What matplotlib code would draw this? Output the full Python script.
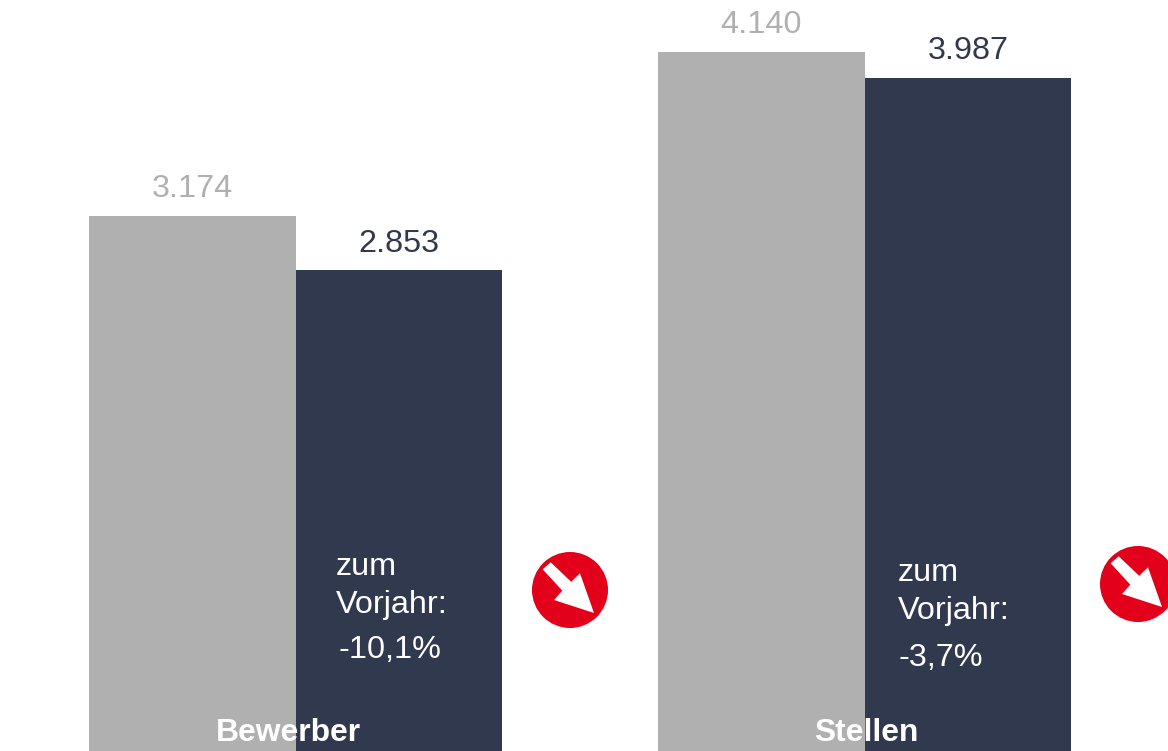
import matplotlib
matplotlib.use('Agg')
import matplotlib.pyplot as plt
import matplotlib.patches as patches

groups = ['Bewerber', 'Stellen']
prev_values = [3174, 4140]
curr_values = [2853, 3987]
prev_labels = ['3.174', '4.140']
curr_labels = ['2.853', '3.987']
changes = ['-10,1%', '-3,7%']

W, H = 1168, 751
GREY = '#b0b0b0'
NAVY = '#31394f'
RED = '#e2001a'
fs = 23.3

plt.rcParams['font.family'] = ['Liberation Sans', 'DejaVu Sans']

fig = plt.figure(figsize=(W / 100, H / 100), dpi=100)
ax = fig.add_axes([0, 0, 1, 1])
# y scale from the bar tops: 4140 sits at y=52, 2853 at y=270, bars cut off at the bottom
px_per_unit = (270 - 52) / (4140 - 2853)
ax.set_xlim(0, W)
ax.set_ylim(4140 - (H - 52) / px_per_unit, 4140 + 52 / px_per_unit)
ax.axis('off')

lefts_prev = [89, 658]
bar_w = 206.7
for i in range(len(groups)):
    ax.bar(lefts_prev[i], prev_values[i], bar_w, align='edge', color=GREY)
    ax.bar(lefts_prev[i] + bar_w, curr_values[i], bar_w, align='edge', color=NAVY)

# overlay axes in pixel coordinates for the labels and badges
ov = fig.add_axes([0, 0, 1, 1])
ov.set_xlim(0, W)
ov.set_ylim(H, 0)
ov.axis('off')
ov.patch.set_alpha(0)

ov.text(192, 189, prev_labels[0], color=GREY, fontsize=fs, ha='center', va='center')
ov.text(399, 244, curr_labels[0], color=NAVY, fontsize=fs, ha='center', va='center')
ov.text(761, 25, prev_labels[1], color=GREY, fontsize=fs, ha='center', va='center')
ov.text(968, 51, curr_labels[1], color=NAVY, fontsize=fs, ha='center', va='center')

ov.text(336, 567, 'zum', color='white', fontsize=fs, ha='left', va='center')
ov.text(336, 605, 'Vorjahr:', color='white', fontsize=fs, ha='left', va='center')
ov.text(339, 650, changes[0], color='white', fontsize=fs, ha='left', va='center')
ov.text(898, 573, 'zum', color='white', fontsize=fs, ha='left', va='center')
ov.text(898, 611, 'Vorjahr:', color='white', fontsize=fs, ha='left', va='center')
ov.text(899, 658, changes[1], color='white', fontsize=fs, ha='left', va='center')

ov.text(288, 733, groups[0], color='white', fontsize=fs * 0.98, fontweight='bold', ha='center', va='center')
ov.text(866, 733, groups[1], color='white', fontsize=fs * 0.98, fontweight='bold', ha='center', va='center')

# arrow outline relative to the badge centre
arrow = [(-27.3, -20.7), (-19.3, -27.7), (1.2, -8.2), (10, -16.7), (24, 23), (-16, 10), (-7.7, 0.7)]
for cx, cy in [(570, 590), (1138, 584)]:
    ov.add_patch(patches.Circle((cx, cy), 38, facecolor=RED, edgecolor='none'))
    ov.add_patch(patches.Polygon([(cx + dx, cy + dy) for dx, dy in arrow], closed=True,
                                 facecolor='white', edgecolor='none'))

fig.savefig('out.png', dpi=100)
